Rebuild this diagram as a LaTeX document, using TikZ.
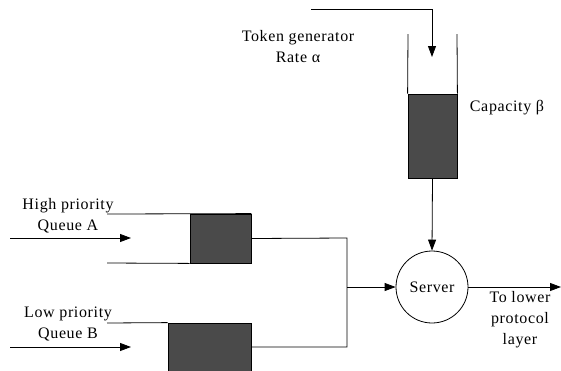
\documentclass[tikz,border=0pt]{standalone}
\usepackage{fontspec}
\setmainfont[LetterSpace=4]{Liberation Serif}
\usetikzlibrary{arrows.meta}
\definecolor{boxgray}{HTML}{4A4A4A}
\begin{document}
\begin{tikzpicture}[x=1pt,y=-1pt,line width=0.8pt,
  tip/.style={-{Triangle[length=11pt,width=8pt]}},
  fillbox/.style={draw,fill=boxgray,inner sep=0pt},
  lbl/.style={font=\fontsize{16}{21}\selectfont,align=center,inner sep=0pt}]
\useasboundingbox (0,0) rectangle (561,370);
% queue boxes
\node[fillbox,minimum width=61pt,minimum height=49pt] (boxA) at (220.5,238.5) {};
\node[fillbox,minimum width=83pt,minimum height=48pt] (boxB) at (209.5,347) {};
% token bucket
\node[fillbox,minimum width=49pt,minimum height=84pt] (bucket) at (432.5,136) {};
\coordinate (wallL) at (408,34);
\coordinate (wallR) at (457,34);
\draw (wallL) -- (bucket.north west);
\draw (wallR) -- (bucket.north east);
% server
\node[draw,circle,minimum size=72pt,inner sep=0pt,font=\fontsize{16}{18}\selectfont] (server) at (432,287) {Server};
% token generator arrow
\coordinate (tokensrc) at (311,9);
\coordinate (tokentip) at (432,57);
\draw[tip] (tokensrc) -| (tokentip);
\draw[tip] (bucket.south) -- (server.north);
% queue A walls and input
\coordinate (aTop) at (107,214);
\coordinate (aBot) at (107,263);
\draw (aTop) -- (boxA.north east);
\draw (aBot) -- (boxA.south west);
\coordinate (inA0) at (10,238);
\coordinate (inA1) at (131,238);
\draw[tip] (inA0) -- (inA1);
% queue B walls and input
\coordinate (bTop) at (107,323);
\draw (bTop) -- (boxB.north west);
\coordinate (inB0) at (10,347);
\coordinate (inB1) at (131,347);
\draw[tip] (inB0) -- (inB1);
% join
\coordinate (jA) at (347,238);
\coordinate (jB) at (347,347);
\coordinate (jM) at (347,287);
\draw (boxA.east) -- (jA) -- (jB) -- (boxB.east);
\draw[tip] (jM) -- (server.west);
% output
\coordinate (out) at (561,287);
\draw[tip] (server.east) -- (out);
% labels
\node[lbl] (lblTok) at (298,47) {Token generator\\Rate α};
\node[lbl] (lblCap) at (507,108) {Capacity β};
\node[lbl] (lblA) at (68,216) {High priority\\Queue A};
\node[lbl] (lblB) at (68,324) {Low priority\\Queue B};
\node[lbl] (lblOut) at (520,320) {To lower\\protocol\\layer};
\end{tikzpicture}
\end{document}
